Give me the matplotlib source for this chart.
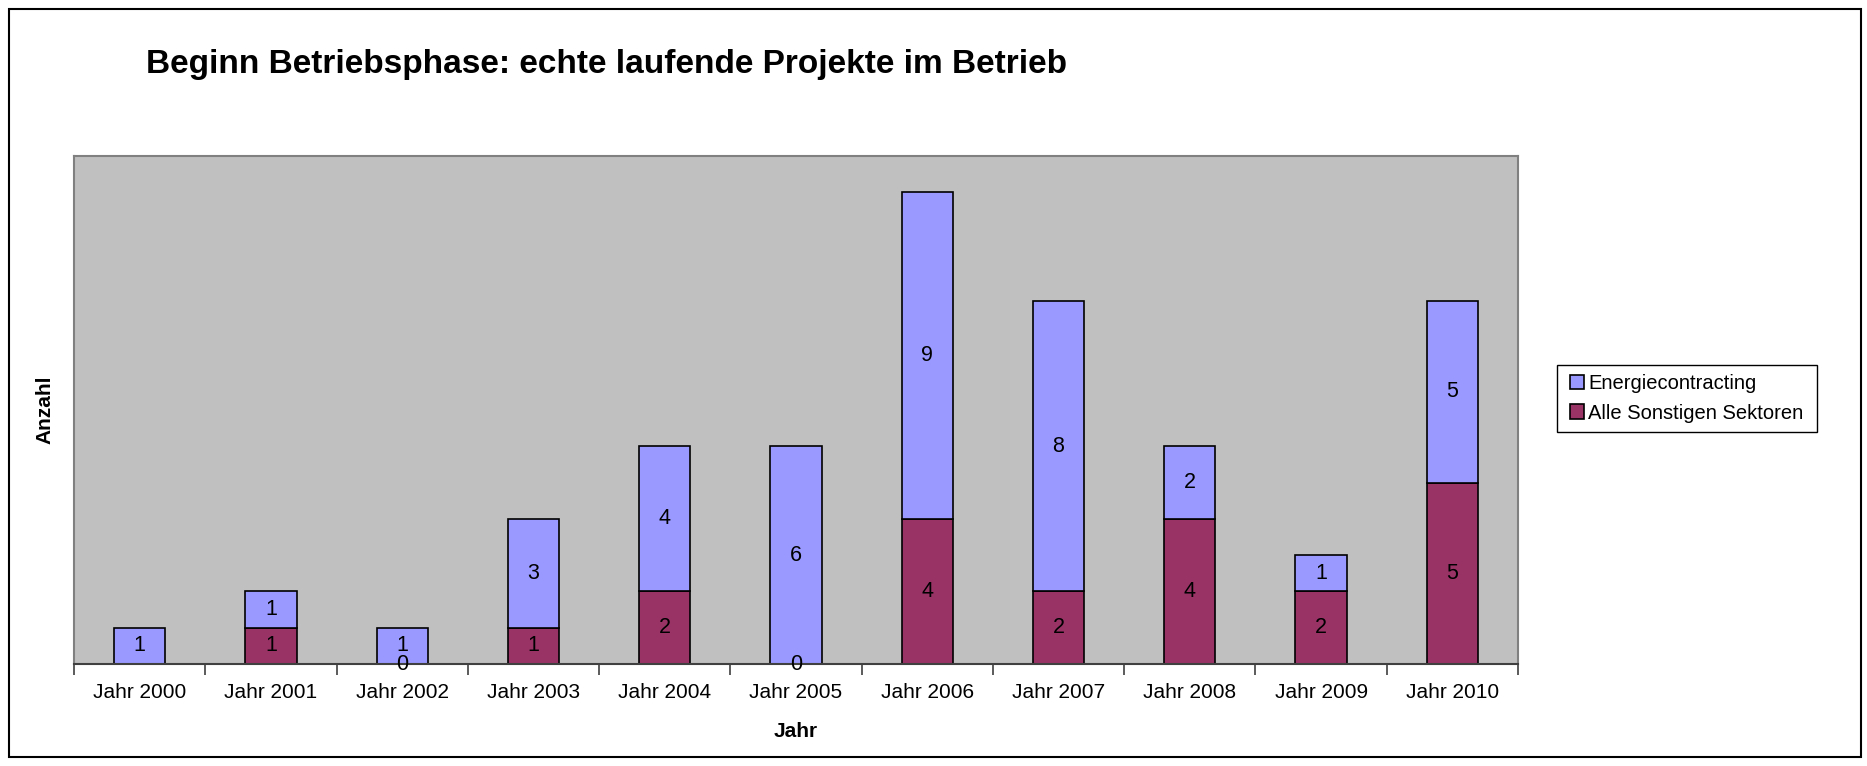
import numpy as np
import matplotlib
matplotlib.use("Agg")
import matplotlib.pyplot as plt
from matplotlib.patches import Rectangle

plt.rcParams['font.family'] = ['Liberation Sans', 'DejaVu Sans']

# data
years = ["Jahr 2000", "Jahr 2001", "Jahr 2002", "Jahr 2003", "Jahr 2004", "Jahr 2005",
         "Jahr 2006", "Jahr 2007", "Jahr 2008", "Jahr 2009", "Jahr 2010"]
sonstige = [np.nan, 1, 0, 1, 2, 0, 4, 2, 4, 2, 5]
energie = [1, 1, 1, 3, 4, 6, 9, 8, 2, 1, 5]

c_energie = "#9999FF"
c_sonst = "#993366"

W, H = 1867, 766
fig = plt.figure(figsize=(W / 100, H / 100), dpi=100)
ax = fig.add_axes([74 / W, 1 - 664 / H, (1518 - 74) / W, (664 - 156) / H])
ax.set_facecolor("#C0C0C0")

x = np.arange(len(years))
w = 0.39
base = np.nan_to_num(np.array(sonstige, dtype=float))
b1 = ax.bar(x, base, w, color=c_sonst, edgecolor="black", lw=1.2,
            label="Alle Sonstigen Sektoren", zorder=2)
b2 = ax.bar(x, energie, w, bottom=base, color=c_energie, edgecolor="black", lw=1.2,
            label="Energiecontracting", zorder=2)

# data labels
for i in range(len(years)):
    if not np.isnan(sonstige[i]):
        ax.text(x[i], sonstige[i] / 2, str(int(sonstige[i])), ha="center", va="center",
                fontsize=15.5, zorder=3)
    ax.text(x[i], base[i] + energie[i] / 2, str(energie[i]), ha="center", va="center",
            fontsize=15.5, zorder=3)

ax.set_xlim(-0.5, len(years) - 0.5)
ax.set_ylim(0, 14)
ax.set_yticks([])
ax.set_xticks(x)
ax.set_xticklabels(years, fontsize=15)
ax.tick_params(axis="x", length=0, pad=14)
ax.set_xticks(np.arange(-0.5, len(years)), minor=True)
ax.tick_params(axis="x", which="minor", length=8, width=1.2, color="#404040")

for s in ["top", "right", "left"]:
    ax.spines[s].set_color("#808080")
    ax.spines[s].set_linewidth(1.5)
ax.spines["bottom"].set_color("#404040")
ax.spines["bottom"].set_linewidth(1.5)

ax.set_xlabel("Jahr", fontsize=15, fontweight="bold", labelpad=14)
ax.set_ylabel("Anzahl", fontsize=15, fontweight="bold", labelpad=14)

fig.text(146 / W, 1 - 64 / H, "Beginn Betriebsphase: echte laufende Projekte im Betrieb",
         fontsize=24, fontweight="bold", ha="left", va="center")

# legend: box drawn separately, entries centred in it
lx0, lx1, ly0, ly1 = 1557, 1817, 365, 432
fig.patches.append(Rectangle((lx0 / W, 1 - ly1 / H), (lx1 - lx0) / W, (ly1 - ly0) / H,
                             transform=fig.transFigure, facecolor="white",
                             edgecolor="black", lw=1.0))
fig.legend(handles=[b2, b1], labels=["Energiecontracting", "Alle Sonstigen Sektoren"],
           loc="center", bbox_to_anchor=((lx0 + lx1) / 2 / W, 1 - (ly0 + ly1) / 2 / H),
           borderaxespad=0, fontsize=14.5, frameon=False,
           handlelength=0.7, handleheight=0.7, handletextpad=0.2,
           labelspacing=0.5, borderpad=0)

fig.patches.append(Rectangle((9 / W, 9 / H), 1 - 15 / W, 1 - 18 / H,
                             transform=fig.transFigure, fill=False, edgecolor="black", lw=1.5))

fig.savefig("out.png", dpi=100)
